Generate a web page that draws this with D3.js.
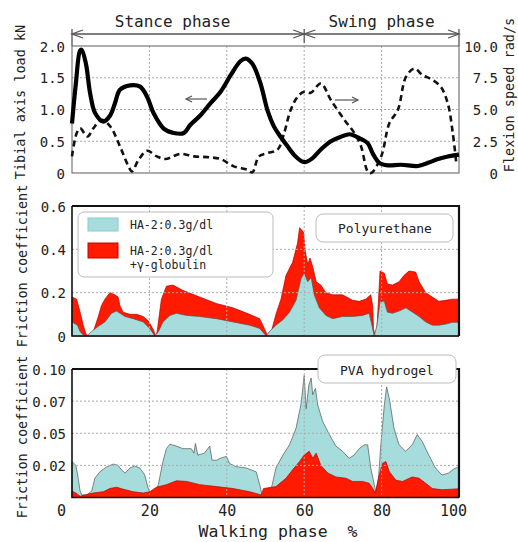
<!DOCTYPE html>
<html>
<head>
<meta charset="utf-8">
<script src="https://cdn.jsdelivr.net/npm/d3@7"></script>
<style>
  body { margin: 0; background: #fff; }
  text { font-family: "DejaVu Sans Mono", "Liberation Mono", monospace; fill: #222; }
</style>
</head>
<body>
<svg id="chart" width="518" height="542"></svg>
<script>
// walking phase (%) positions and values
const loadPct = [0, 1, 2.1, 2.5, 3.6, 4.7, 6, 8.1, 9.9, 11.1, 12.4, 15, 17.6, 19.4, 21.1, 23.7, 26.3, 28.9, 30.6, 33.2, 35.8, 38.4, 41, 43.5, 44.9, 46.6, 48.7, 50.5, 52.2, 53.9, 55.7, 57.8, 60, 62.1, 64.3, 66.9, 69.5, 71.7, 74.2, 76.4, 77.7, 79.4, 81.6, 85, 89.4, 92, 94.6, 97.1, 100];
const loadKN = [0.78, 1.41, 1.93, 1.94, 1.72, 1.25, 0.94, 0.81, 0.91, 1.1, 1.31, 1.38, 1.36, 1.2, 0.94, 0.7, 0.63, 0.63, 0.76, 0.91, 1.1, 1.28, 1.54, 1.76, 1.8, 1.72, 1.41, 0.99, 0.73, 0.57, 0.42, 0.26, 0.17, 0.23, 0.37, 0.5, 0.57, 0.61, 0.55, 0.47, 0.31, 0.16, 0.12, 0.13, 0.11, 0.16, 0.22, 0.26, 0.29];

const speedPct = [0, 1.2, 2.1, 4, 5.5, 7.7, 9.9, 12.4, 14.6, 15.5, 17.2, 19.4, 21.9, 24.1, 28, 31.5, 34.9, 38.4, 41.8, 45.3, 46.6, 48.3, 50.5, 53.1, 54.8, 56.5, 58.3, 60, 61.7, 64.3, 66.9, 70.4, 73, 74.7, 76.4, 77.3, 79.9, 82, 84.2, 86.3, 88.5, 90.6, 92.8, 95.3, 97.1, 98.4, 99.3];
const speedRad = [1.31, 3.13, 3.52, 2.87, 3.52, 4.18, 3.66, 2.09, 0.52, 0.13, 1.04, 1.75, 1.31, 1.1, 1.51, 1.31, 1.25, 1.1, 0.52, 0.26, 0.05, 1.31, 1.57, 1.83, 3.13, 4.96, 6.01, 6.4, 6.32, 7.05, 5.74, 4.18, 3.13, 2.09, 0.13, 0, 1.31, 3.92, 4.96, 7.57, 8.22, 7.7, 7.39, 6.79, 5.48, 3.13, 0.78];

const puRedPct = [0, 1.2, 2.1, 2.9, 3.6, 4.2, 5.5, 6.8, 7.6, 8.5, 9.8, 11.1, 11.9, 12.4, 13.2, 15, 16.7, 18.4, 19.7, 21, 21.6, 22, 23.1, 24.4, 26.1, 28.7, 33, 37.3, 41.6, 45.9, 48.5, 49.7, 50.6, 51.5, 52.7, 54, 55.3, 57, 58.3, 58.8, 59.8, 60.3, 60.9, 61.5, 62.2, 63.1, 64.3, 65.6, 67.4, 69.9, 72.5, 74.2, 75.9, 77.2, 77.7, 77.9, 78.3, 78.8, 79.6, 80.7, 81.5, 82.8, 84.5, 85.8, 87.1, 88.8, 89.7, 91.4, 93.1, 94.8, 96.6, 98.3, 100];
const puRed = [0.18, 0.17, 0.11, 0.05, 0.01, 0, 0.02, 0.09, 0.14, 0.17, 0.2, 0.19, 0.18, 0.14, 0.11, 0.1, 0.1, 0.09, 0.07, 0.03, 0, 0.02, 0.17, 0.23, 0.235, 0.21, 0.18, 0.15, 0.13, 0.1, 0.08, 0.035, 0, 0.02, 0.1, 0.17, 0.28, 0.34, 0.43, 0.5, 0.48, 0.39, 0.33, 0.36, 0.32, 0.25, 0.235, 0.2, 0.19, 0.19, 0.165, 0.16, 0.17, 0.19, 0.14, 0.035, 0, 0.035, 0.3, 0.29, 0.24, 0.235, 0.25, 0.28, 0.3, 0.295, 0.25, 0.2, 0.18, 0.16, 0.165, 0.17, 0.17];
const puCyanPct = [0, 1.4, 2.1, 2.9, 3.8, 5, 6.8, 8.5, 10.2, 11.5, 12.4, 13.7, 15.8, 18.4, 20.1, 21.4, 22.3, 23.5, 25.3, 27, 29.6, 33, 37.3, 41.6, 45.9, 48.5, 50.2, 51, 52.7, 54.5, 56.2, 57.9, 59.2, 60, 60.9, 61.8, 62.6, 63.9, 65.6, 67.4, 69.9, 72.5, 75.1, 76.8, 77.5, 78.1, 78.8, 79.6, 80.7, 81.5, 82.8, 84.5, 86.3, 88, 89.7, 91.4, 93.1, 94.8, 96.6, 98.3, 100];
const puCyan = [0.065, 0.05, 0.02, 0.005, 0, 0.02, 0.045, 0.065, 0.105, 0.115, 0.105, 0.09, 0.08, 0.065, 0.035, 0, 0.02, 0.065, 0.095, 0.105, 0.095, 0.09, 0.08, 0.065, 0.05, 0.035, 0, 0.02, 0.05, 0.075, 0.11, 0.165, 0.265, 0.29, 0.25, 0.27, 0.19, 0.13, 0.095, 0.08, 0.09, 0.09, 0.095, 0.105, 0.05, 0, 0.05, 0.16, 0.16, 0.11, 0.105, 0.115, 0.13, 0.11, 0.09, 0.065, 0.05, 0.05, 0.055, 0.063, 0.063];

const pvaCyanPct = [0, 1, 1.6, 2.1, 2.5, 3.8, 5.1, 5.9, 7.2, 9, 10.7, 11.9, 12.8, 13.7, 15, 16.2, 17.5, 18.8, 19.7, 20.5, 21.4, 22.3, 23.5, 24.4, 25.3, 27, 28.7, 30.8, 31.5, 31.9, 32.5, 34.2, 35.6, 36.2, 37.3, 38.3, 39.9, 40.7, 42.4, 45, 47.6, 48.5, 49.1, 50.2, 51.5, 52.7, 54.5, 56.2, 57.9, 59.2, 60, 60.5, 61.2, 61.8, 62.2, 62.9, 63.5, 64.8, 66.5, 68.2, 69.9, 71.6, 72.9, 74.2, 75.5, 76.4, 77.2, 78.1, 78.5, 79.2, 79.8, 80.7, 81.3, 82, 83.2, 84.5, 86.2, 87.9, 89.2, 90.5, 92.2, 93.9, 95.6, 97.3, 98.6, 100];
const pvaCyan = [0.028, 0.025, 0.015, 0.005, 0.002, 0.002, 0.005, 0.015, 0.02, 0.024, 0.026, 0.025, 0.0215, 0.019, 0.023, 0.0245, 0.023, 0.0175, 0.007, 0.002, 0.0035, 0.01, 0.028, 0.038, 0.0415, 0.04, 0.038, 0.038, 0.0345, 0.042, 0.033, 0.0345, 0.04, 0.029, 0.029, 0.0305, 0.032, 0.0265, 0.024, 0.023, 0.02, 0.01, 0.002, 0.002, 0.007, 0.023, 0.033, 0.041, 0.054, 0.073, 0.095, 0.069, 0.0875, 0.093, 0.08, 0.085, 0.072, 0.059, 0.049, 0.04, 0.036, 0.0305, 0.033, 0.038, 0.041, 0.041, 0.023, 0.01, 0.0045, 0.015, 0.041, 0.072, 0.086, 0.077, 0.054, 0.041, 0.036, 0.041, 0.049, 0.0435, 0.033, 0.023, 0.0175, 0.019, 0.022, 0.024];
const pvaRedPct = [0, 1, 2.1, 3.3, 5.5, 8.1, 9.8, 11.5, 13.2, 15.8, 18.4, 20.1, 21.8, 24.4, 27, 29.6, 33, 37.3, 41.6, 45.9, 48.9, 49.5, 52.7, 55.3, 57, 58.8, 60, 61.3, 62.2, 63.1, 64.3, 66.1, 68.2, 70.8, 72.5, 75.1, 76.8, 77.7, 78.4, 79.2, 80.2, 81.1, 82, 83.7, 85.4, 87.9, 89.7, 91.4, 93.1, 95.6, 98.3, 100];
const pvaRed = [0.005, 0.0035, 0.001, 0.002, 0.0035, 0.0045, 0.007, 0.008, 0.0065, 0.0045, 0.0035, 0.0045, 0.008, 0.01, 0.013, 0.0125, 0.01, 0.0085, 0.007, 0.0045, 0.002, 0.007, 0.0085, 0.015, 0.0215, 0.028, 0.033, 0.036, 0.0305, 0.0345, 0.025, 0.019, 0.016, 0.015, 0.0125, 0.0125, 0.011, 0.007, 0.0035, 0.015, 0.0265, 0.028, 0.02, 0.0135, 0.0125, 0.016, 0.015, 0.011, 0.007, 0.006, 0.0065, 0.0068];

const xTicks = [0, 20, 40, 60, 80, 100];
const loadTicks = [0, 0.5, 1.0, 1.5, 2.0];
const loadLabels = ["0", "0.5", "1.0", "1.5", "2.0"];
const speedTicks = [0, 2.5, 5, 7.5, 10];
const speedLabels = ["0", "2.5", "5.0", "7.5", "10.0"];
const puTicks = [0, 0.2, 0.4, 0.6];
const puLabels = ["0", "0.2", "0.4", "0.6"];
const pvaTicks = [0.025, 0.05, 0.075, 0.1];
const pvaLabels = ["0.02", "0.05", "0.07", "0.10"];
const legendLabels = [["HA-2:0.3g/dl"], ["HA-2:0.3g/dl", "+γ-globulin"]];

const CYAN = "#a6dcdc", RED = "#ff1a00";
const svg = d3.select("#chart");
const x = d3.scaleLinear().domain([0, 100]).range([72, 459]);
const toPts = (xs, ys) => xs.map((p, i) => [p, ys[i]]);

function grid(y, yVals, y0, y1) {
  const g = svg.append("g").attr("stroke", "#aaa").attr("stroke-dasharray", "2,2").attr("stroke-width", 1);
  xTicks.slice(1, -1).forEach(t => g.append("line").attr("x1", x(t)).attr("x2", x(t)).attr("y1", y0).attr("y2", y1));
  yVals.forEach(v => g.append("line").attr("x1", x(0)).attr("x2", x(100)).attr("y1", y(v)).attr("y2", y(v)));
}

function yLabels(y, ticks, labels, xPos) {
  const ax = d3.axisLeft(y).tickValues(ticks).tickFormat((d, i) => labels[i]).tickSize(0).tickPadding(0);
  const g = svg.append("g").attr("transform", `translate(${xPos},0)`).call(ax);
  g.select(".domain").remove();
  g.selectAll("text").attr("text-anchor", "end").attr("x", 0).attr("dy", "0.36em")
    .style("font-size", "14px").style("font-family", "'DejaVu Sans Mono', monospace").attr("fill", "#222");
}

function yTitle(text, cx, cy, size) {
  svg.append("text").attr("transform", `translate(${cx},${cy}) rotate(-90)`)
    .attr("text-anchor", "middle").attr("dy", "0.35em").style("font-size", size + "px").text(text);
}

// ---------- top panel: tibial load and flexion speed ----------
const yLoad = d3.scaleLinear().domain([0, 2]).range([173, 46]);
const ySpeed = d3.scaleLinear().domain([0, 10]).range([173, 46]);
grid(yLoad, [0.5, 1.0, 1.5], 46, 173);
svg.append("rect").attr("x", x(0)).attr("y", 46).attr("width", x(100) - x(0)).attr("height", 127)
  .attr("fill", "none").attr("stroke", "#777").attr("stroke-width", 1.2);

svg.append("path").datum(toPts(speedPct, speedRad))
  .attr("fill", "none").attr("stroke", "#111").attr("stroke-width", 2.6).attr("stroke-dasharray", "6,4")
  .attr("d", d3.line().x(d => x(d[0])).y(d => ySpeed(d[1])).curve(d3.curveCatmullRom));
svg.append("path").datum(toPts(loadPct, loadKN))
  .attr("fill", "none").attr("stroke", "#000").attr("stroke-width", 4.2).attr("stroke-linejoin", "round")
  .attr("d", d3.line().x(d => x(d[0])).y(d => yLoad(d[1])).curve(d3.curveCatmullRom));

yLabels(yLoad, loadTicks, loadLabels, 65);
yLabels(ySpeed, speedTicks, speedLabels, 498);
yTitle("Tibial axis load kN", 20, 102, 13.5);
yTitle("Flexion speed rad/s", 509, 95, 13.5);

// phase arrows
const ph = svg.append("g").attr("stroke", "#555").attr("stroke-width", 1.3).attr("fill", "none");
const ay = 34;
ph.append("line").attr("x1", x(0)).attr("x2", x(100)).attr("y1", ay).attr("y2", ay);
[0, 60, 100].forEach(t => ph.append("line").attr("x1", x(t)).attr("x2", x(t)).attr("y1", ay - 5).attr("y2", t === 60 ? ay + 9 : 46));
const chev = (px, dir) => ph.append("path").attr("d", `M${px + dir * 11},${ay - 4}L${px},${ay}L${px + dir * 11},${ay + 4}`);
chev(x(0), 1); chev(x(60), -1); chev(x(60), 1); chev(x(100), -1);
svg.append("text").attr("x", x(26)).attr("y", 27).attr("text-anchor", "middle").style("font-size", "16px").text("Stance phase");
svg.append("text").attr("x", x(80)).attr("y", 27).attr("text-anchor", "middle").style("font-size", "16px").text("Swing phase");

// small direction arrows
const da = svg.append("g").attr("stroke", "#555").attr("stroke-width", 1.2).attr("fill", "none");
da.append("line").attr("x1", 186).attr("x2", 207).attr("y1", 99).attr("y2", 99);
da.append("path").attr("d", "M192,96L186,99L192,102");
da.append("line").attr("x1", 335).attr("x2", 358).attr("y1", 100).attr("y2", 100);
da.append("path").attr("d", "M352,97L358,100L352,103");

// ---------- friction panels ----------
function frictionPanel(y, under, over, gridVals, y0, y1) {
  const area = d3.area().x(d => x(d[0])).y0(y(0)).y1(d => y(d[1]));
  [under, over].forEach(s => svg.append("path").datum(s.pts)
    .attr("fill", s.color).attr("stroke", s.edge).attr("stroke-width", 0.7).attr("d", area));
  grid(y, gridVals, y0, y1);
  const f = svg.append("g").attr("stroke", "#111").attr("fill", "none");
  f.append("path").attr("d", `M${x(0)},${y0}H${x(100)}V${y1}`).attr("stroke-width", 2.2);
  f.append("path").attr("d", `M${x(0)},${y0}V${y1}H${x(100)}`).attr("stroke-width", 1.6);
}

const yPU = d3.scaleLinear().domain([0, 0.6]).range([336, 206]);
frictionPanel(yPU,
  { pts: toPts(puRedPct, puRed), color: RED, edge: "#b00" },
  { pts: toPts(puCyanPct, puCyan), color: CYAN, edge: "#555" },
  [0.2, 0.4], 206, 336);
yLabels(yPU, puTicks, puLabels, 66);
yTitle("Friction coefficient", 22, 266, 13.5);

// legend
svg.append("rect").attr("x", 78).attr("y", 212).attr("width", 195).attr("height", 65).attr("rx", 6)
  .attr("fill", "#fff").attr("stroke", "#bbb");
[CYAN, RED].forEach((c, i) => {
  svg.append("rect").attr("x", 88).attr("y", i ? 243 : 218).attr("width", 30).attr("height", i ? 15 : 13)
    .attr("fill", c).attr("stroke", i ? "#c00" : "#8cc");
  legendLabels[i].forEach((t, j) => svg.append("text").attr("x", 130).attr("y", (i ? 255 : 229) + j * 14)
    .style("font-size", "11.5px").text(t));
});

svg.append("rect").attr("x", 316).attr("y", 214).attr("width", 137).attr("height", 28).attr("rx", 7)
  .attr("fill", "#fff").attr("stroke", "#bbb");
svg.append("text").attr("x", 385).attr("y", 233).attr("text-anchor", "middle").style("font-size", "13px").text("Polyurethane");

const yPVA = d3.scaleLinear().domain([0, 0.1]).range([497.5, 369]);
frictionPanel(yPVA,
  { pts: toPts(pvaCyanPct, pvaCyan), color: CYAN, edge: "#555" },
  { pts: toPts(pvaRedPct, pvaRed), color: RED, edge: "#b00" },
  [0.025, 0.05, 0.075], 369, 497.5);
yLabels(yPVA, pvaTicks, pvaLabels, 66);
yTitle("Friction coefficient", 22, 437, 13.5);

svg.append("rect").attr("x", 318).attr("y", 355).attr("width", 138).attr("height", 28).attr("rx", 7)
  .attr("fill", "#fff").attr("stroke", "#bbb");
svg.append("text").attr("x", 387).attr("y", 375).attr("text-anchor", "middle").style("font-size", "13px").text("PVA hydrogel");

// x axis
const xa = svg.append("g").attr("transform", "translate(0,505)")
  .call(d3.axisBottom(x).tickValues(xTicks).tickSize(0).tickPadding(0));
xa.select(".domain").remove();
xa.selectAll("text").attr("dy", "0.71em").attr("fill", "#222")
  .attr("dx", d => d === 0 ? -11 : d === 100 ? -6 : 0)
  .style("font-size", "15px").style("font-family", "'DejaVu Sans Mono', monospace");
svg.append("text").attr("x", 278).attr("y", 537).attr("text-anchor", "middle").style("font-size", "16.5px")
  .attr("xml:space", "preserve").text("Walking phase  %");
</script>
</body>
</html>
